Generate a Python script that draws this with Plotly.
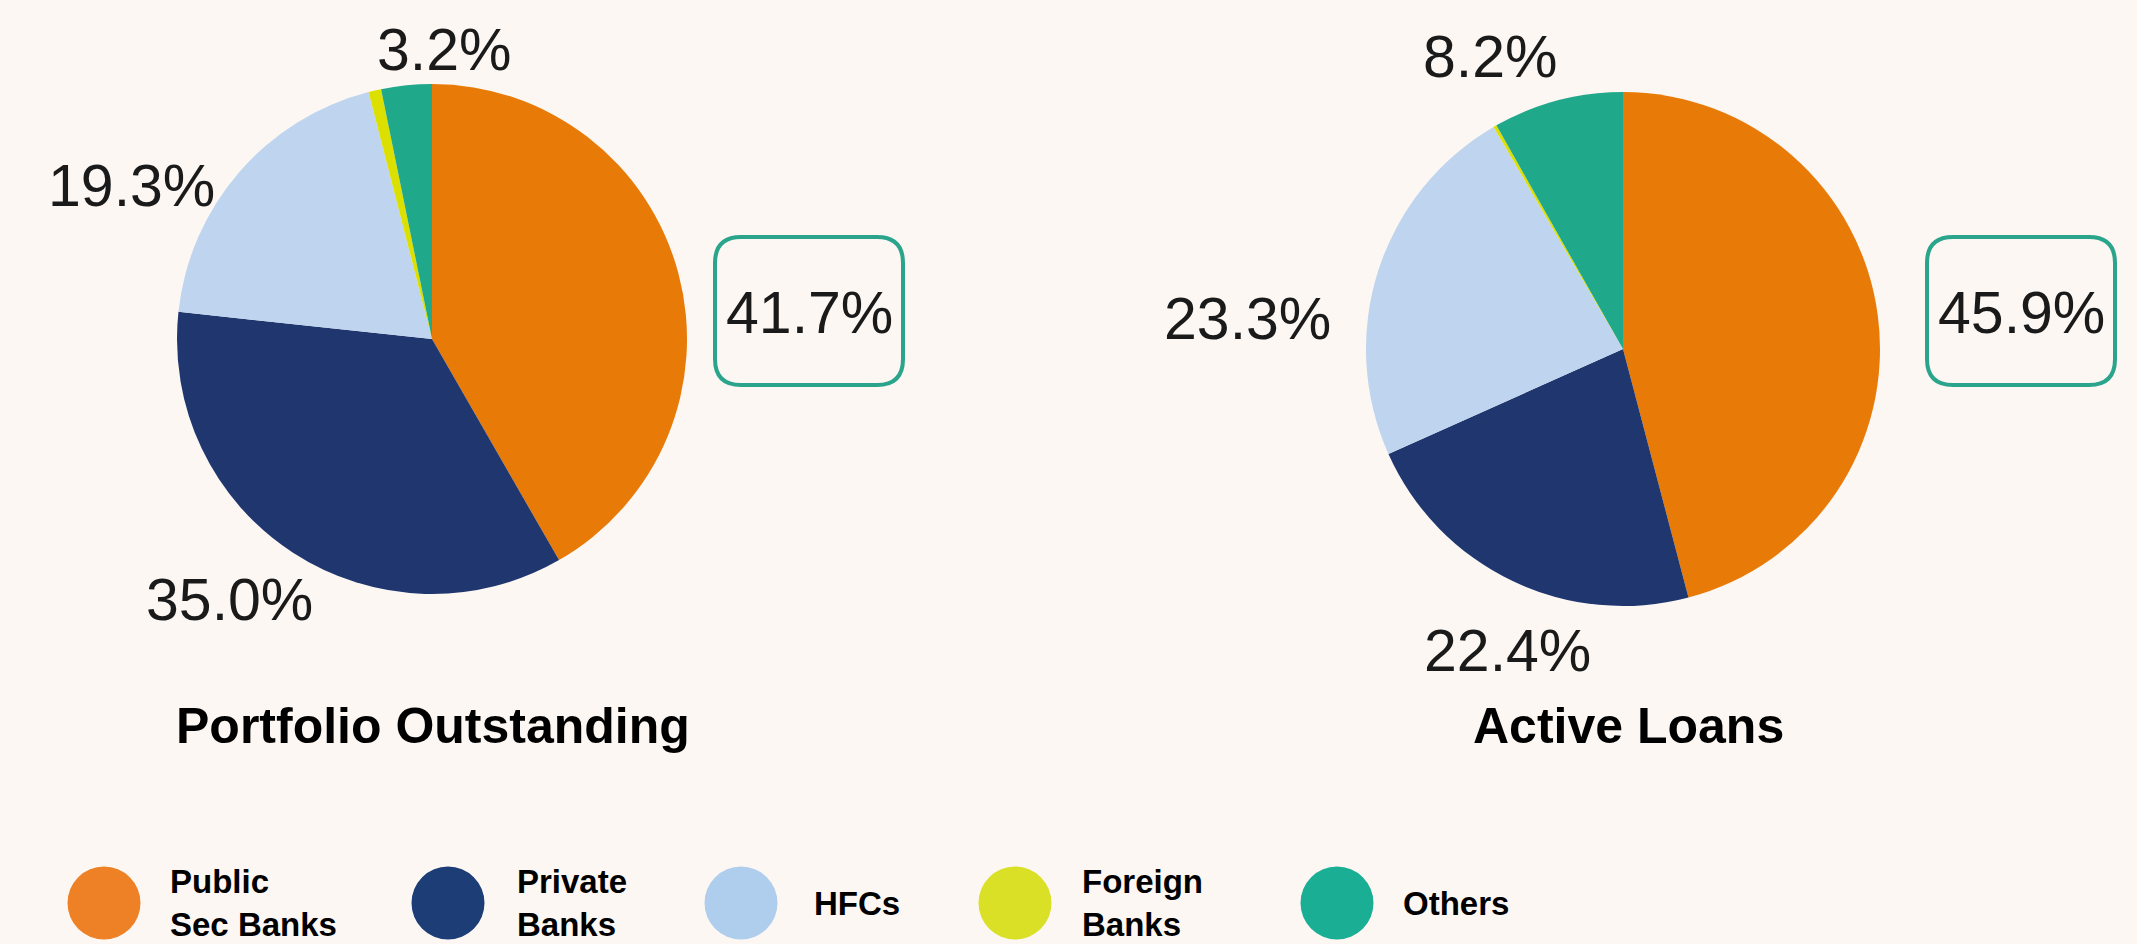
import plotly.graph_objects as go

W, H = 2137, 944

categories = ["Public Sec Banks", "Private Banks", "HFCs", "Foreign Banks", "Others"]
legend_labels = ["Public<br>Sec Banks", "Private<br>Banks", "HFCs", "Foreign<br>Banks", "Others"]
portfolio_values = [41.7, 35.0, 19.3, 0.8, 3.2]
active_values = [45.9, 22.4, 23.3, 0.2, 8.2]
titles = ["Portfolio Outstanding", "Active Loans"]

pie_colors = ["#E87A08", "#1F366E", "#BFD4EF", "#DCE000", "#1FA88A"]
legend_colors = ["#EE8126", "#1D3D77", "#AFCDEC", "#D9E025", "#1AAE94"]
bg = "#FCF7F3"
box_color = "#2AA58C"

def px(x):
    return x / W

def py(y):
    return 1 - y / H

# pie centres / radius in pixels
pies = [
    dict(cx=432, cy=339, r=255, values=portfolio_values, title=titles[0], tx=433, ty=726,
         labels=[(444, 50, 4), (131, 186, 2), (229, 600, 1)], box=(715, 237, 903, 385)),
    dict(cx=1623, cy=349, r=257, values=active_values, title=titles[1], tx=1628, ty=726,
         labels=[(1490, 57, 4), (1247, 319, 2), (1507, 651, 1)], box=(1927, 237, 2115, 385)),
]

fig = go.Figure()
annotations = []
shapes = []
label_font = dict(family="Liberation Sans, Arial, sans-serif", size=59, color="#1a1a1a")
bold_font = "Liberation Sans, Arial, sans-serif"

for p in pies:
    fig.add_trace(go.Pie(
        labels=categories, values=p["values"], sort=False, direction="clockwise",
        rotation=0, textinfo="none", hoverinfo="label+percent",
        marker=dict(colors=pie_colors, line=dict(width=0)),
        domain=dict(x=[px(p["cx"] - p["r"]), px(p["cx"] + p["r"])],
                    y=[py(p["cy"] + p["r"]), py(p["cy"] - p["r"])]),
        showlegend=False,
    ))
    for (lx, ly, idx) in p["labels"]:
        annotations.append(dict(x=px(lx), y=py(ly), xref="paper", yref="paper",
                                text=f"{p['values'][idx]:.1f}%", showarrow=False,
                                font=label_font, xanchor="center", yanchor="middle"))
    x0, y0, x1, y1 = p["box"]
    rr = 26
    path = (f"M {px(x0+rr)},{py(y0)} L {px(x1-rr)},{py(y0)} Q {px(x1)},{py(y0)} {px(x1)},{py(y0+rr)} "
            f"L {px(x1)},{py(y1-rr)} Q {px(x1)},{py(y1)} {px(x1-rr)},{py(y1)} "
            f"L {px(x0+rr)},{py(y1)} Q {px(x0)},{py(y1)} {px(x0)},{py(y1-rr)} "
            f"L {px(x0)},{py(y0+rr)} Q {px(x0)},{py(y0)} {px(x0+rr)},{py(y0)} Z")
    shapes.append(dict(type="path", path=path, xref="paper", yref="paper",
                       line=dict(color=box_color, width=4), fillcolor=bg))
    annotations.append(dict(x=px((x0 + x1) / 2), y=py((y0 + y1) / 2 + 2), xref="paper", yref="paper",
                            text=f"{p['values'][0]:.1f}%", showarrow=False,
                            font=label_font, xanchor="center", yanchor="middle"))
    annotations.append(dict(x=px(p["tx"]), y=py(p["ty"]), xref="paper", yref="paper",
                            text=f"<b>{p['title']}</b>", showarrow=False,
                            font=dict(family=bold_font, size=50, color="#000000"),
                            xanchor="center", yanchor="middle"))

# custom legend
leg_cx = [104, 448, 741, 1015, 1337]
leg_tx = [168, 515, 812, 1080, 1401]
leg_cy = 903
rad = 36.5
for i, cat in enumerate(categories):
    shapes.append(dict(type="circle", xref="paper", yref="paper",
                       x0=px(leg_cx[i] - rad), x1=px(leg_cx[i] + rad),
                       y0=py(leg_cy + rad), y1=py(leg_cy - rad),
                       fillcolor=legend_colors[i], line=dict(width=0)))
    annotations.append(dict(x=px(leg_tx[i]), y=py(leg_cy), xref="paper", yref="paper",
                            text=f"<b>{legend_labels[i]}</b>", showarrow=False, align="left",
                            font=dict(family=bold_font, size=33, color="#000000"),
                            xanchor="left", yanchor="middle"))

fig.update_layout(
    width=W, height=H, margin=dict(l=0, r=0, t=0, b=0),
    paper_bgcolor=bg, plot_bgcolor=bg,
    annotations=annotations, shapes=shapes,
)

fig.write_html(
    "out.html",
    config={"displayModeBar": False},
    post_script=f"document.body.style.margin='0';document.body.style.overflow='hidden';document.body.style.background='{bg}';",
)
